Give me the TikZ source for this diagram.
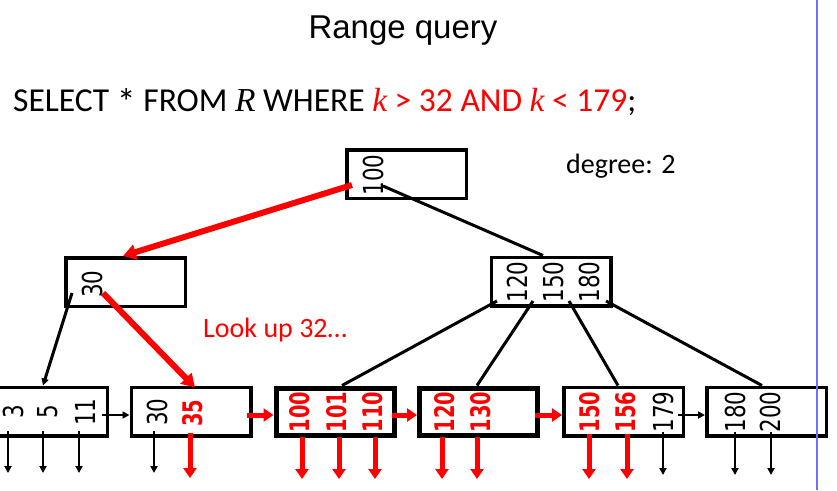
\documentclass[tikz,border=0pt]{standalone}
\usepackage{fontspec}
\setmainfont{Carlito}
\newfontfamily\titlefont{Liberation Sans}
\newfontfamily\serifitfont{Liberation Serif}
\newfontfamily\keyfont[FakeStretch=0.78]{DejaVu Sans}
\newfontfamily\keyboldfont[FakeStretch=0.72]{DejaVu Sans}
\usetikzlibrary{arrows.meta,calc}
\definecolor{hired}{RGB}{255,0,0}
\definecolor{slideblue}{RGB}{112,112,255}
\begin{document}
\begin{tikzpicture}[x=1pt,y=-1pt,
  box/.style={draw, line width=3.5pt, minimum width=119.5pt, minimum height=48.5pt, inner sep=0pt},
  hotbox/.style={draw, line width=5pt, minimum width=118pt, minimum height=47pt, inner sep=0pt},
  key/.style={rotate=90, inner sep=0pt, font=\keyfont\fontsize{27.5}{27.5}\selectfont},
  hotkey/.style={rotate=90, inner sep=0pt, text=hired, font=\keyboldfont\bfseries\fontsize{27}{27}\selectfont},
  link/.style={line width=3pt},
  linkarrow/.style={line width=3pt, -{Triangle[length=7pt,width=7pt]}},
  hotlink/.style={draw=hired, line width=6pt, -{Triangle[length=13pt,width=15pt]}},
  bptr/.style={line width=2.5pt, -{Triangle[length=7pt,width=7pt]}},
  rptr/.style={draw=hired, line width=5pt, -{Triangle[length=10pt,width=13pt]}},
  bnext/.style={line width=2.5pt, -{Triangle[length=7pt,width=7pt]}},
  rnext/.style={draw=hired, line width=5pt, -{Triangle[length=10pt,width=13pt]}},
  txt/.style={inner sep=0pt, anchor=base west}
]
\useasboundingbox (0,0) rectangle (837,490);
\clip (0,0) rectangle (837,490);

% texts
\node[anchor=base, inner sep=0pt, font=\titlefont\fontsize{33}{33}\selectfont] (title) at (403,38) {Range query};
\node[txt, font=\fontsize{33.5}{33.5}\selectfont] (sql) at (13,111)
  {SELECT \raisebox{-0.12em}{\fontsize{38}{38}\selectfont *} FROM {\serifitfont\itshape R} WHERE \textcolor{hired}{{\serifitfont\itshape k} > 32 AND {\serifitfont\itshape k} < 179};};
\node[txt, font=\fontsize{28}{28}\selectfont] (deg) at (566,173) {degree: 2};
\node[txt, text=hired, font=\fontsize{28}{28}\selectfont] (look) at (203,337) {Look up 32…};

% boxes
\node[box] (root) at (406.5,174) {};
\node[box] (il) at (125.5,282) {};
\node[box] (ir) at (551,281.5) {};
\node[box] (l1) at (47.5,411.5) {};
\node[box] (l2) at (191,411.5) {};
\node[hotbox] (l3) at (335,411.5) {};
\node[hotbox] (l4) at (478.5,411.5) {};
\node[box] (l5) at (623.5,411.5) {};
\node[box] (l6) at (766.5,411.5) {};

% keys
\node[key] (k100) at (373,175) {100};
\node[key] (k30i) at (92,284) {30};
\node[key] (k120i) at (517,282) {120};
\node[key] (k150i) at (553,282) {150};
\node[key] (k180i) at (589,282) {180};
\node[key] (k3) at (13,412) {3};
\node[key] (k5) at (48,412) {5};
\node[key] (k11) at (85,412) {11};
\node[key] (k30) at (157,412) {30};
\node[hotkey] (k35) at (193,413) {35};
\node[hotkey] (k100l) at (300,412) {100};
\node[hotkey] (k101) at (337,412) {101};
\node[hotkey] (k110) at (373,412) {110};
\node[hotkey] (k120) at (445,412) {120};
\node[hotkey] (k130) at (481,412) {130};
\node[hotkey] (k150) at (590,412) {150};
\node[hotkey] (k156) at (626,412) {156};
\node[key] (k179) at (663,412) {179};
\node[key] (k180) at (735,412) {180};
\node[key] (k200) at (770,412) {200};

% connector start points inside the inner nodes
\coordinate (rootL) at (352,185);
\coordinate (rootR) at (383,186);
\coordinate (ilL) at (72,293);
\coordinate (ilR) at (103,293);
\coordinate (ir1) at (497,301);
\coordinate (ir2) at (533,301);
\coordinate (ir3) at (569,301);
\coordinate (ir4) at (606,301);

\draw[hotlink] (rootL) -- ($(il.north)+(-2.5,0)$);
\draw[link] (rootR) -- ($(ir.north)+(-8,0)$);
\draw[linkarrow] (ilL) -- ($(l1.north)+(-4.5,0)$);
\draw[hotlink] (ilR) -- ($(l2.north)+(4,2)$);
\draw[link] (ir1) -- ($(l3.north)+(7,0)$);
\draw[link] (ir2) -- ($(l4.north)+(-1.5,0)$);
\draw[link] (ir3) -- ($(l5.north)+(-5.5,0)$);
\draw[link] (ir4) -- ($(l6.north)+(-4.5,0)$);

% next-leaf arrows
\draw[bnext] ($(l1.east)+(-7,3.5)$) -- ($(l2.west)+(0,3.5)$);
\draw[rnext] ($(l2.east)+(-6,3.5)$) -- ($(l3.west)+(0,3.5)$);
\draw[rnext] ($(l3.east)+(-5,3.5)$) -- ($(l4.west)+(0,3.5)$);
\draw[rnext] ($(l4.east)+(-5,3.5)$) -- ($(l5.west)+(0,3.5)$);
\draw[bnext] ($(l5.east)+(-7,3.5)$) -- ($(l6.west)+(0,3.5)$);

% record pointers
\foreach \n/\x/\sty/\ya/\yb in {a/8/bptr/431/473, b/43/bptr/431/473, c/79/bptr/431/473,
    d/154/bptr/431/473, e/190/rptr/433/478,
    f/302/rptr/437/479, g/339/rptr/437/479, h/375/rptr/437/479,
    i/442/rptr/437/479, j/477/rptr/437/479,
    k/589/rptr/434/479, l/627/rptr/434/479, m/663/bptr/432/475,
    n/735/bptr/432/475, o/771/bptr/432/475} {
  \coordinate (ps\n) at (\x,\ya);
  \coordinate (pe\n) at (\x,\yb);
  \draw[\sty] (ps\n) -- (pe\n);
}

% slide border
\coordinate (bt) at (817,0);
\coordinate (bb) at (817,490);
\draw[slideblue, line width=2pt] (bt) -- (bb);
\end{tikzpicture}
\end{document}
